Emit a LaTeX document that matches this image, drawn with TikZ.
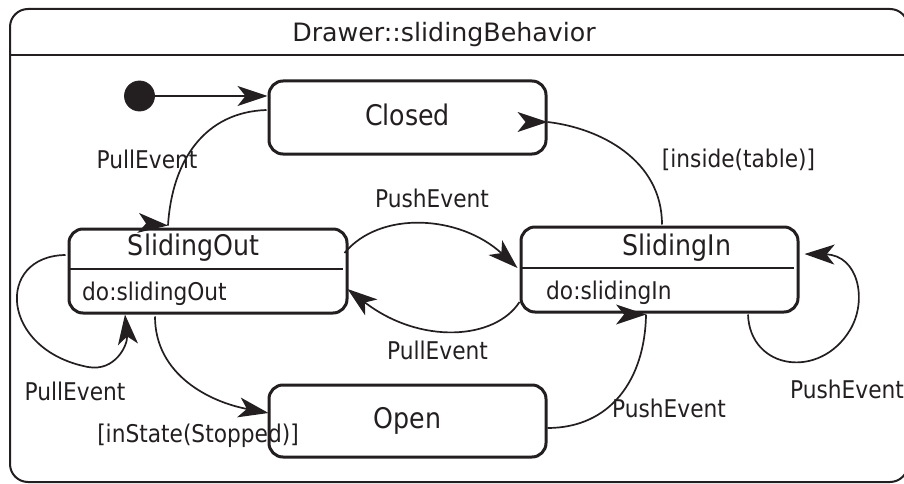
\documentclass[tikz,border=0pt]{standalone}
\usepackage{fontspec}
\setmainfont{DejaVu Sans}
\newfontfamily\condfont{DejaVu Sans}[FakeStretch=0.89]
\usetikzlibrary{arrows.meta,calc}
\definecolor{ink}{HTML}{231F20}
\tikzset{
  state/.style={draw=ink,text=ink,line width=3pt,rounded corners=14pt,
    minimum width=277pt,inner sep=0pt,text height=21.6pt,text depth=6pt,
    font=\condfont\fontsize{28.4}{34}\selectfont},
  sname/.style={anchor=base,text=ink,inner sep=0pt,font=\condfont\fontsize{28.4}{34}\selectfont},
  lbl/.style={anchor=base,text=ink,inner sep=0pt,font=\condfont\fontsize{24.4}{29}\selectfont},
  trans/.style={draw=ink,line width=1.7pt,-{Stealth[length=30pt,width=20pt,inset=8pt]}},
  transbare/.style={draw=ink,line width=1.7pt},
  headR/.pic={\fill[ink] (0pt,0pt) -- (-30pt,10pt) -- (-22pt,0pt) -- (-30pt,-10pt) -- cycle;}
}
\begin{document}
\begin{tikzpicture}[x=1pt,y=-1pt]
      \useasboundingbox (0,0) rectangle (904,484);
      % frame
      \draw[ink,line width=2pt,rounded corners=18pt] (10,9) rectangle (908,482);
      \draw[ink,line width=2pt] (10,55) -- (908,55);
      \node[anchor=base,text=ink,inner sep=0pt,font=\fontsize{25.3}{30}\selectfont] (title) at (444,42) {Drawer::slidingBehavior};
      % states
      \path
        (139.5,96) node[circle,fill=ink,draw=ink,line width=0.8pt,minimum size=30pt,inner sep=0pt] (init){}
        (407.5,117.5) node[state,minimum height=73pt] (closed){Closed}
        (407.5,421) node[state,minimum height=72pt] (open){Open}
        (208,271) node[state,minimum width=278pt,minimum height=84pt] (sout){}
        (659.5,269.5) node[state,minimum height=85pt] (sin){};
      \draw[ink,line width=2pt] (68,269) -- (343,269);
      \draw[ink,line width=2pt] (521,268) -- (794,268);
      \node[sname] (soutname) at (193.5,255) {SlidingOut};
      \node[sname] (sinname) at (677,255) {SlidingIn};
      \node[lbl,anchor=base west] (soutdo) at (82,300) {do:slidingOut};
      \node[lbl,anchor=base west] (sindo) at (546,299) {do:slidingIn};
      % transitions
      \draw[trans] (init.east) -- ($(closed.west)+(0,-21.5)$);
      \draw[transbare] ($(closed.west)+(-1,-7.5)$) .. controls (205,112) and (172,160) .. ($(sout.north)+(-40,-2)$);
      \pic[rotate=-5] at ($(sout.north)+(-40,-2)$) {headR};
      \draw[trans] ($(sout.west)+(-2,-16)$) .. controls (-5,256) and (0,350) .. (88,367)
        .. controls (115,372) and (128,345) .. ($(sout.south)+(-83,0)$);
      \draw[trans] ($(sout.east)+(-4,-18)$) .. controls (380,210) and (460,215) .. ($(sin.west)+(-2,-1.5)$);
      \draw[trans] ($(sin.west)+(0,32.5)$) .. controls (495,340) and (420,345) .. ($(sout.east)+(-1,18)$);
      \draw[transbare] ($(sin.north)+(2.5,-1)$) .. controls (662,160) and (600,128) .. ($(closed.east)+(0,4.5)$);
      \pic at ($(closed.east)+(0,4.5)$) {headR};
      \draw[trans] ($(sout.south)+(-53,2)$) .. controls (155,375) and (210,402) .. ($(open.west)+(1,-8)$);
      \draw[transbare] ($(open.east)+(0,7)$) .. controls (610,428) and (645,380) .. ($(sin.south)+(-13.5,1)$);
      \pic at ($(sin.south)+(-13.5,1)$) {headR};
      \draw[trans] ($(sin.south)+(88.5,1)$) .. controls (750,370) and (820,380) .. (850,330)
        .. controls (868,300) and (858,255) .. ($(sin.east)+(5,-15.5)$);
      % labels
      \node[lbl] (l1) at (147,168.5) {PullEvent};
      \node[lbl] (l2) at (75,400) {PullEvent};
      \node[lbl] (l3) at (432,207) {PushEvent};
      \node[lbl] (l4) at (437.5,359) {PullEvent};
      \node[lbl] (l5) at (738.5,167) {[inside(table)]};
      \node[lbl] (l6) at (198,442) {[inState(Stopped)]};
      \node[lbl] (l7) at (669,417) {PushEvent};
      \node[lbl] (l8) at (847,398) {PushEvent};
    \end{tikzpicture}
\end{document}
